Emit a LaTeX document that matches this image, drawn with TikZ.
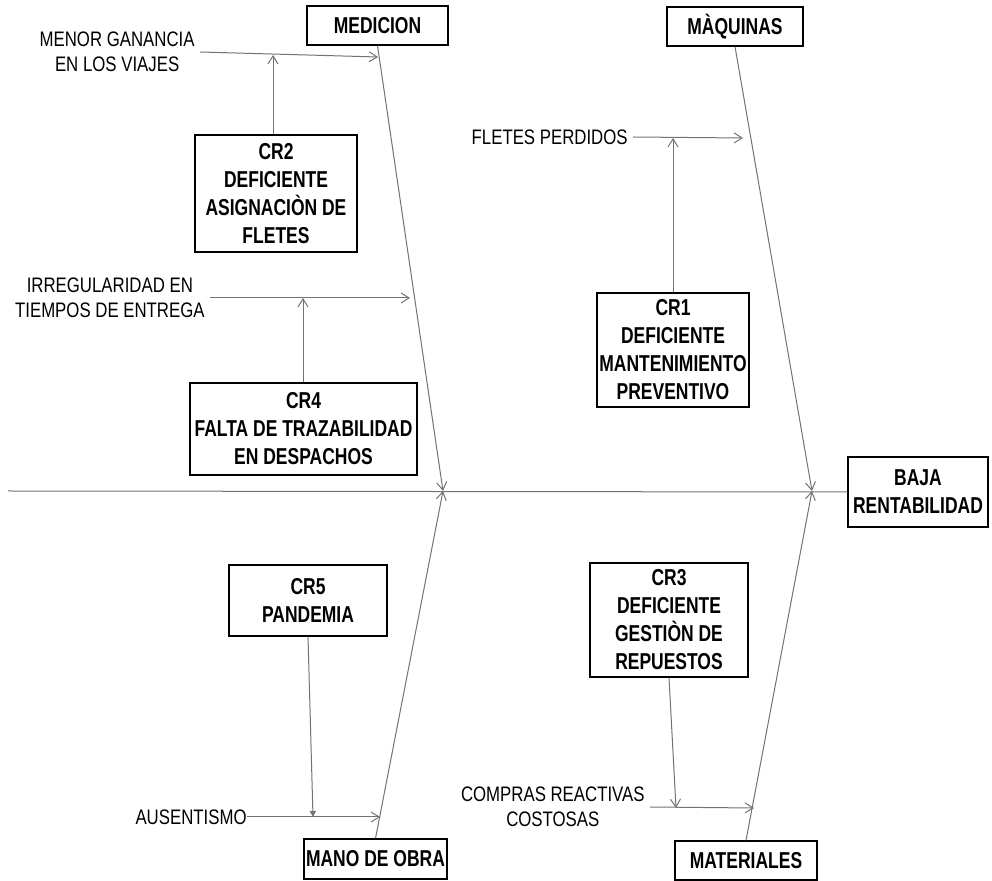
\documentclass[tikz,border=0pt]{standalone}
\usepackage{fontspec}
\setmainfont{Liberation Sans}
\newfontfamily\causefont{Liberation Sans}[FakeStretch=0.8]
\newfontfamily\boxfont{Liberation Sans}[FakeStretch=0.76]
\usetikzlibrary{arrows.meta}

\begin{document}
\begin{tikzpicture}[x=0.5pt, y=-0.5pt,
  bone/.style={draw=black!55, line width=0.5pt},
  barb/.style={bone, -{Straight Barb[length=4pt,width=5pt]}},
  solid tip/.style={bone, -{Triangle[length=3pt,width=3pt]}},
  catbox/.style={draw, line width=0.6pt, inner sep=0pt, align=center,
    font=\boxfont\bfseries\fontsize{11.5}{14}\selectfont},
  cause/.style={inner xsep=2.5pt, inner ysep=0pt, align=center,
    font=\causefont\fontsize{10.5}{12.5}\selectfont}]
  \useasboundingbox[fill=white] (0,0) rectangle (992,881);
  % Effect and categories
  \node[catbox, minimum width=70pt, minimum height=35pt] (baja) at (918,492) {BAJA\\RENTABILIDAD};
  \node[catbox, minimum width=70.5pt, minimum height=19.5pt] (med) at (377.5,25.5) {MEDICION};
  \node[catbox, minimum width=68pt, minimum height=19.5pt] (maq) at (735,26.5) {MÀQUINAS};
  \node[catbox, minimum width=71.5pt, minimum height=20pt] (mano) at (375.5,859) {MANO DE OBRA};
  \node[catbox, minimum width=71pt, minimum height=19.5pt] (mat) at (746,860.5) {MATERIALES};
  % Root causes
  \node[catbox, minimum width=81pt, minimum height=58.5pt] (cr2) at (276,193.5) {CR2\\DEFICIENTE\\ASIGNACIÒN DE\\FLETES};
  \node[catbox, minimum width=76pt, minimum height=57pt] (cr1) at (673,350) {CR1\\DEFICIENTE\\MANTENIMIENTO\\PREVENTIVO};
  \node[catbox, minimum width=113.5pt, minimum height=46pt] (cr4) at (303.5,429) {CR4\\FALTA DE TRAZABILIDAD\\EN DESPACHOS};
  \node[catbox, minimum width=79pt, minimum height=35.5pt] (cr5) at (308,600.5) {CR5\\PANDEMIA};
  \node[catbox, minimum width=79pt, minimum height=57pt] (cr3) at (669,620) {CR3\\DEFICIENTE\\GESTIÒN DE\\REPUESTOS};
  % Effects of the root causes
  \node[cause, anchor=east] (menor) at (200,52) {MENOR GANANCIA\\EN LOS VIAJES};
  \node[cause, anchor=east] (fletes) at (633,137) {FLETES PERDIDOS};
  \node[cause, anchor=east] (irreg) at (210,298) {IRREGULARIDAD EN\\TIEMPOS DE ENTREGA};
  \node[cause, anchor=east, inner xsep=0pt] (ausen) at (247,817) {AUSENTISMO};
  \node[cause, anchor=east] (compras) at (650,807) {COMPRAS REACTIVAS\\COSTOSAS};
  % Spine and bones
  \coordinate (tail) at (8,491);
  \coordinate (hm) at (443,491);
  \coordinate (hq) at (812,491);
  \draw[bone] (tail) -- (baja.west);
  \draw[barb] (med.south) -- (hm);
  \draw[barb] (mano.north) -- (hm);
  \draw[barb] (maq.south) -- (hq);
  \draw[barb] (mat.north) -- (hq);
  % Branches onto the bones
  \coordinate (s2) at (378,57);
  \coordinate (s1) at (743,138);
  \coordinate (s4) at (410,298);
  \coordinate (s5) at (380,817);
  \coordinate (s3) at (754,808);
  \draw[barb] (menor.east) -- (s2);
  \draw[barb] (fletes.east) -- (s1);
  \draw[barb] (irreg.east) -- (s4);
  \draw[barb] (ausen.east) -- (s5);
  \draw[barb] (compras.east) -- (s3);
  % Root causes feeding the branches
  \coordinate (j2) at (273,55);
  \coordinate (j1) at (673,138);
  \coordinate (j4) at (303,298);
  \coordinate (j5) at (313,817);
  \coordinate (j3) at (676,808);
  \draw[barb] (j2 |- cr2.north) -- (j2);
  \draw[barb] (cr1.north) -- (j1);
  \draw[barb] (j4 |- cr4.north) -- (j4);
  \draw[solid tip] (cr5.south) -- (j5);
  \draw[barb] (cr3.south) -- (j3);
\end{tikzpicture}
\end{document}
